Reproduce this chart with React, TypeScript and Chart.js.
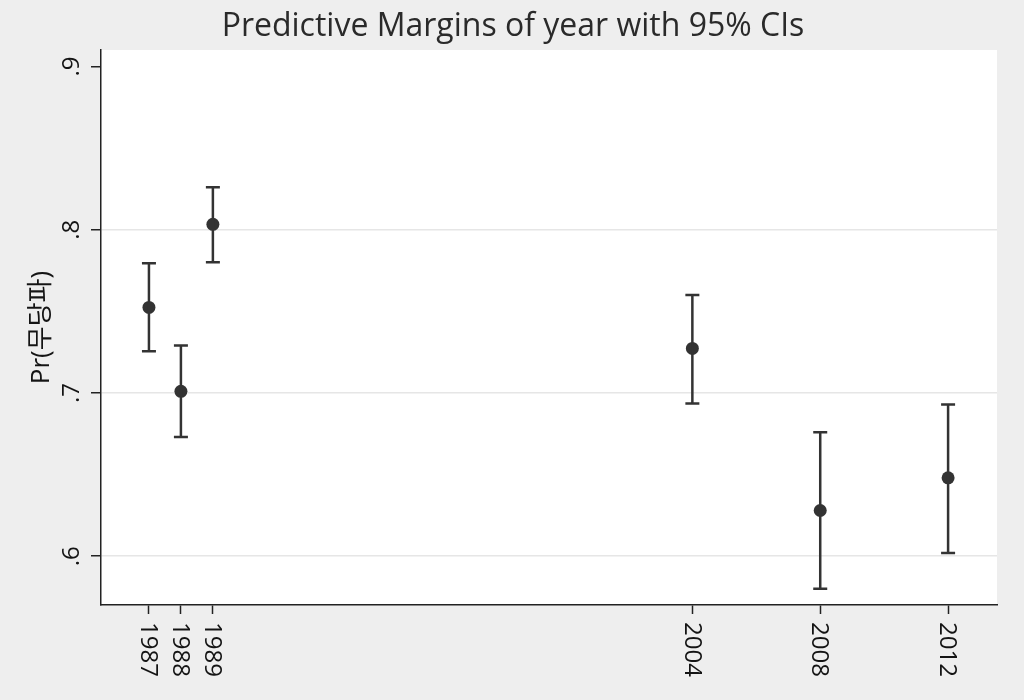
import React, { useEffect, useRef } from "react";
import { Chart, registerables } from "chart.js";

Chart.register(...registerables);

const years = [1987, 1988, 1989, 2004, 2008, 2012];
const margins = [0.7524, 0.701, 0.8033, 0.7273, 0.628, 0.648];
const ciUpper = [0.7794, 0.729, 0.826, 0.760, 0.676, 0.693];
const ciLower = [0.7255, 0.673, 0.780, 0.6936, 0.580, 0.602];
const yTicks = [0.6, 0.7, 0.8, 0.9];
const yTickLabels = [".6", ".7", ".8", ".9"];
const titleText = "Predictive Margins of year with 95% CIs";
const yTitle = "Pr(무당파)";

const FONT = '"Open Sans", "Noto Sans CJK KR", sans-serif';
const INK = "#333333";
const TEXT = "#141414";

const stataPlugin = {
  id: "stataDecor",
  beforeDraw(chart: any) {
    const { ctx, chartArea, width, height } = chart;
    ctx.save();
    ctx.fillStyle = "#eeeeee";
    ctx.fillRect(0, 0, width, height);
    ctx.fillStyle = "#ffffff";
    ctx.fillRect(chartArea.left, chartArea.top, chartArea.right - chartArea.left, chartArea.bottom - chartArea.top);
    ctx.restore();
  },
  afterDatasetsDraw(chart: any) {
    const { ctx, scales } = chart;
    const xs = scales.x;
    const ys = scales.y;
    ctx.save();
    ctx.strokeStyle = INK;
    ctx.lineWidth = 2.5;
    years.forEach((yr, i) => {
      const px = xs.getPixelForValue(yr);
      const pu = ys.getPixelForValue(ciUpper[i]);
      const pl = ys.getPixelForValue(ciLower[i]);
      ctx.beginPath();
      ctx.moveTo(px, pu);
      ctx.lineTo(px, pl);
      ctx.moveTo(px - 7, pu);
      ctx.lineTo(px + 7, pu);
      ctx.moveTo(px - 7, pl);
      ctx.lineTo(px + 7, pl);
      ctx.stroke();
    });
    ctx.restore();
  },
  afterDraw(chart: any) {
    const { ctx, scales, chartArea } = chart;
    const xs = scales.x;
    const ys = scales.y;
    ctx.save();
    // title
    ctx.font = `32px ${FONT}`;
    ctx.textAlign = "center";
    ctx.textBaseline = "middle";
    ctx.fillStyle = "#2a2a2a";
    ctx.fillText(titleText, 513, 27);
    ctx.fillStyle = TEXT;
    // x tick labels (rotated clockwise)
    ctx.font = `24px ${FONT}`;
    years.forEach((yr) => {
      const px = xs.getPixelForValue(yr);
      ctx.save();
      ctx.translate(px, chartArea.bottom + 17);
      ctx.rotate(Math.PI / 2);
      ctx.textAlign = "left";
      ctx.textBaseline = "middle";
      ctx.fillText(String(yr), 0, 1);
      ctx.restore();
    });
    // y tick labels (rotated counter-clockwise)
    yTicks.forEach((v, i) => {
      const py = ys.getPixelForValue(v);
      ctx.save();
      ctx.translate(72, py);
      ctx.rotate(-Math.PI / 2);
      ctx.textAlign = "center";
      ctx.textBaseline = "middle";
      ctx.fillText(yTickLabels[i], 0, 0);
      ctx.restore();
    });
    // y axis title
    ctx.save();
    ctx.translate(42, (chartArea.top + chartArea.bottom) / 2);
    ctx.rotate(-Math.PI / 2);
    ctx.textAlign = "center";
    ctx.textBaseline = "middle";
    ctx.font = `26px ${FONT}`;
    ctx.fillText(yTitle, 0, 0);
    ctx.restore();
    ctx.restore();
  },
};

export default function App() {
  const ref = useRef<HTMLCanvasElement | null>(null);
  useEffect(() => {
    document.body.style.margin = "0";
    const canvas = ref.current!;
    const chart = new Chart(canvas, {
      type: "scatter",
      data: {
        datasets: [
          {
            data: years.map((yr, i) => ({ x: yr, y: margins[i] })),
            backgroundColor: INK,
            borderColor: INK,
            pointRadius: 6.5,
            pointBorderWidth: 0,
          },
        ],
      },
      options: {
        animation: false,
        responsive: false,
        maintainAspectRatio: false,
        layout: { padding: { top: 50, right: 27, left: 0, bottom: 0 } },
        plugins: { legend: { display: false }, tooltip: { enabled: false }, title: { display: false } },
        scales: {
          x: {
            type: "linear",
            min: 1985.5,
            max: 2013.53,
            afterBuildTicks: (axis: any) => {
              axis.ticks = years.map((v) => ({ value: v }));
            },
            afterFit: (axis: any) => {
              axis.height = 95;
            },
            ticks: { display: false },
            grid: { drawOnChartArea: false, drawTicks: true, tickLength: 9, tickColor: "#222222", tickWidth: 1.5 },
            border: { display: true, color: "#222222", width: 1.5 },
          },
          y: {
            type: "linear",
            min: 0.5701,
            max: 0.9101,
            afterBuildTicks: (axis: any) => {
              axis.ticks = yTicks.map((v) => ({ value: v }));
            },
            afterFit: (axis: any) => {
              axis.width = 101;
            },
            ticks: { display: false },
            grid: {
              drawOnChartArea: true,
              drawTicks: true,
              tickLength: 10,
              tickColor: "#222222",
              tickWidth: 1.5,
              lineWidth: 1.5,
              color: (c: any) => (c.tick && Math.abs(c.tick.value - 0.9) < 1e-6 ? "rgba(0,0,0,0)" : "#e6e6e6"),
            },
            border: { display: true, color: "#222222", width: 1.5 },
          },
        },
      },
      plugins: [stataPlugin],
    } as any);
    return () => chart.destroy();
  }, []);
  return (
    <div style={{ position: "absolute", left: 0, top: 0, width: 1024, height: 700 }}>
      <canvas ref={ref} width={1024} height={700} style={{ width: 1024, height: 700, display: "block" }} />
    </div>
  );
}
